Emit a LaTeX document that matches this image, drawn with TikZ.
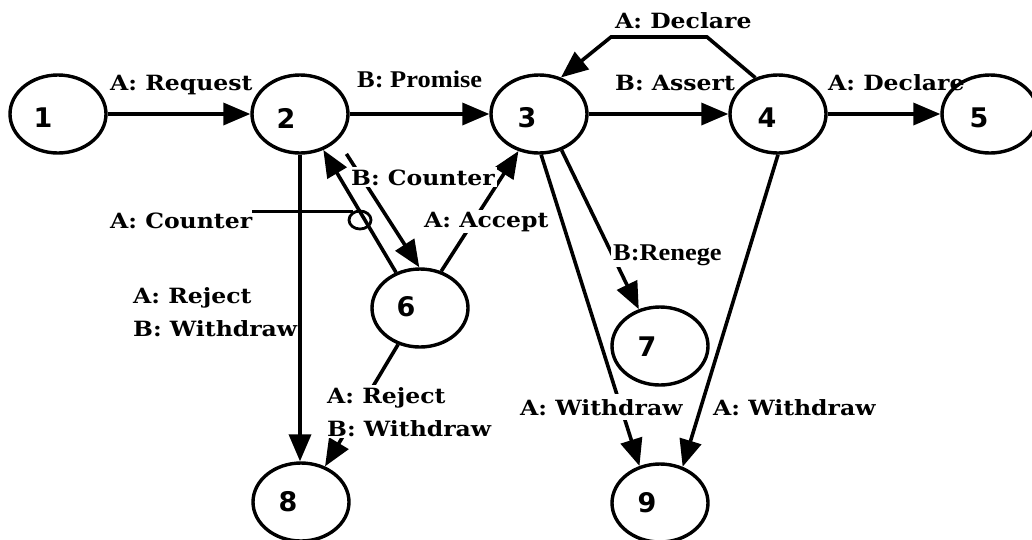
\documentclass[tikz,border=0pt]{standalone}
\usepackage{fontspec}
\usetikzlibrary{shapes.geometric,arrows.meta}
\newfontfamily\lblfont[FakeStretch=1.12]{DejaVu Serif}
\newfontfamily\tmsfont[FakeStretch=1.1]{Liberation Serif}
\newfontfamily\digfont{DejaVu Sans}
\begin{document}
\begin{tikzpicture}[x=1pt,y=-1pt,
  ell/.style={ellipse, draw, line width=3.4pt, minimum width=96pt, minimum height=78pt, inner sep=0pt},
  dig/.style={font=\digfont\bfseries\fontsize{27}{27}\selectfont, inner sep=0pt},
  lbl/.style={font=\lblfont\bfseries\fontsize{21}{33}\selectfont, inner sep=0pt, anchor=base west},
  lblw/.style={lbl, fill=white, inner sep=2pt},
  tms/.style={font=\tmsfont\bfseries\fontsize{24}{27}\selectfont, inner sep=2pt, fill=white, anchor=base west},
  arr/.style={-{Triangle[length=27pt,width=22pt]}, line width=3.6pt},
  lead/.style={line width=2.6pt}]
\fill[white] (0,0) rectangle (1032,539);
\useasboundingbox (0,0) rectangle (1032,539);

% states
\node[ell, label={[dig,xshift=-15pt,yshift=-4pt]center:1}] (n1) at (58,114) {};
\node[ell, label={[dig,xshift=-14pt,yshift=-4pt]center:2}] (n2) at (300,114) {};
\node[ell, label={[dig,xshift=-12pt,yshift=-4pt]center:3}] (n3) at (539,114) {};
\node[ell, label={[dig,xshift=-11pt,yshift=-4pt]center:4}] (n4) at (778,114) {};
\node[ell, label={[dig,xshift=-11pt,yshift=-4pt]center:5}] (n5) at (990,114) {};
\node[ell, label={[dig,xshift=-14pt,yshift=1pt]center:6}] (n6) at (420,308) {};
\node[ell, label={[dig,xshift=-13pt,yshift=-1pt]center:7}] (n7) at (660,346) {};
\node[ell, label={[dig,xshift=-13pt,yshift=0pt]center:8}] (n8) at (301,502) {};
\node[ell, label={[dig,xshift=-13pt,yshift=0pt]center:9}] (n9) at (660,503) {};

\coordinate (d1) at (707,37);
\coordinate (d2) at (611,37);

% transitions
\draw[arr] (n1) -- (n2);
\draw[arr] (n2) -- (n3);
\draw[arr] (n3) -- (n4);
\draw[arr] (n4) -- (n5);
\draw[arr] (n4.122) -- (d1) -- (d2) -- (n3.59);
\draw[arr] (n2.south) -- (n2.south |- n8.north);
\draw[arr] (n6.124) -- (n2.-57);
\draw[arr, shorten <=16pt] (n2.-35) -- (n6.91);
\draw[arr] (n6.60) -- (n3.-119);
\draw[arr] (n6.-121) -- (n8.56);
\draw[arr] (n3.-58) -- (n7.120);
\draw[arr] (n3.-87) -- (n9.119);
\draw[arr] (n4.south) -- (n9.58);

% labels
\node[lbl] (lreq) at (110,90) {A: Request};
\node[tms] (lpro) at (355,87) {B: Promise};
\node[lbl] (lass) at (615,90) {B: Assert};
\node[lbl] (ldec1) at (615,28) {A: Declare};
\node[lbl] (ldec2) at (828,90) {A: Declare};
\node[lblw] (lbc) at (349,185) {B: Counter};
\node[lblw] (lacc) at (422,227) {A: Accept};
\node[lbl] (lac) at (110,228) {A: Counter};
\node[ellipse, draw, line width=2.8pt, minimum width=22pt, minimum height=18pt, inner sep=0pt] (cc) at (360,220) {};
\draw[lead] (lac.east |- cc.130) -- (cc.130);
\node[lbl, anchor=north west, align=left] (lrw1) at (133,287) {A: Reject\\B: Withdraw};
\node[lblw, anchor=north west, align=left] (lrw2) at (325,385) {A: Reject\\B: Withdraw};
\node[tms] (lren) at (611,260) {B:Renege};
\node[lblw, inner ysep=5pt] (lw1) at (518,415) {A: Withdraw};
\node[lbl] (lw2) at (713,415) {A: Withdraw};
\end{tikzpicture}
\end{document}
